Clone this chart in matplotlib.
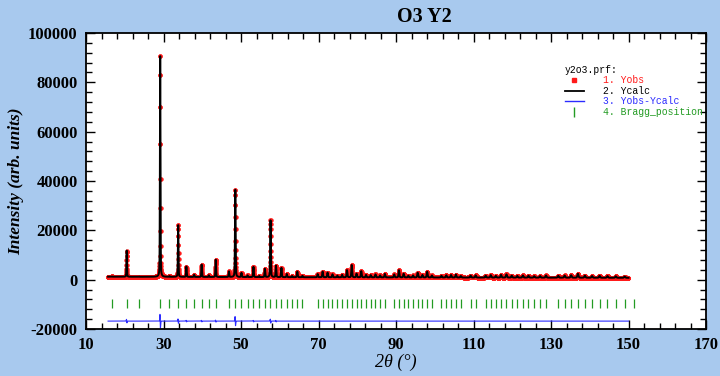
import matplotlib
matplotlib.use('Agg')
import matplotlib.pyplot as plt
import numpy as np
from matplotlib.lines import Line2D
from matplotlib.ticker import MultipleLocator

# =============================================================================
# Y2O3 powder pattern (FullProf style): scan range, background, reflections
# =============================================================================
TTH_START = 15.7
TTH_END = 150.0
TTH_STEP = 0.02

BG_TTH = [15.7, 60.0, 150.0]
BG_INT = [1200, 1000, 750]

BRAGG_POS = [
    16.71, 20.50, 23.71, 29.15, 31.54, 33.79, 35.90, 37.92, 39.84, 41.69,
    43.48, 46.89, 48.53, 50.12, 51.68, 53.21, 54.70, 56.17, 57.61, 59.03,
    60.43, 61.82, 63.18, 64.53, 65.86, 69.78, 71.06, 72.33, 73.60, 74.86,
    76.11, 77.35, 78.58, 79.82, 81.04, 82.27, 83.48, 84.70, 85.91, 87.13,
    89.55, 90.76, 91.97, 93.18, 94.39, 95.60, 96.82, 98.04, 99.27, 101.73,
    102.97, 104.21, 105.46, 106.72, 109.26, 110.55, 113.14, 114.45, 115.77,
    117.11, 118.49, 119.87, 121.30, 122.73, 124.19, 125.67, 127.17, 128.71,
    131.87, 133.51, 135.20, 136.95, 138.74, 140.60, 142.54, 144.58, 146.72,
    149.00, 151.44,
]

PEAK_INT = [
    100, 10600, 100, 90500, 300, 21200, 4200, 900, 5000, 700,
    7000, 2300, 35700, 1700, 700, 4200, 500, 3400, 23200, 4700,
    3800, 1300, 500, 2300, 600, 1300, 2300, 1900, 1200, 700,
    1000, 2900, 5000, 1500, 2500, 1000, 900, 1200, 800, 1400,
    1200, 2900, 1500, 700, 800, 1900, 1000, 2300, 800, 700,
    900, 1000, 1200, 600, 800, 900, 800, 1000, 700,
    1100, 1300, 800, 700, 900, 800, 600, 700, 900,
    800, 900, 1000, 1600, 900, 700, 800, 700, 600,
    500, 0,
]

# Yobs-Ycalc misfit around the strong lines
DIFF_POS = [20.50, 29.15, 33.79, 35.90, 39.84, 43.48, 48.53, 53.21, 57.61, 59.03]
DIFF_AMP = [700, 2800, 900, 300, 300, 400, 1900, 300, 800, 300]
DIFF_OFFSET = -16800

BRAGG_LOW, BRAGG_HIGH = -11300, -7700

BG_COLOR = '#a8c9ee'
RED = '#ff1a1a'
BLUE = '#2b2bff'
GREEN = '#239b23'


def pseudo_voigt(x, pos, height, eta=0.3):
    fwhm = 0.12 + 0.0015 * pos
    dx = (x - pos) / fwhm
    gauss = np.exp(-4 * np.log(2) * dx ** 2)
    lorentz = 1 / (1 + 4 * dx ** 2)
    return height * (eta * lorentz + (1 - eta) * gauss)


tth = np.arange(TTH_START, TTH_END + TTH_STEP / 2, TTH_STEP)
ycalc = np.interp(tth, BG_TTH, BG_INT).astype(float)
for p, h in zip(BRAGG_POS, PEAK_INT):
    ycalc += pseudo_voigt(tth, p, h)
yobs = ycalc.copy()

diff = np.full_like(tth, DIFF_OFFSET, dtype=float)
for p, a in zip(DIFF_POS, DIFF_AMP):
    s = 0.06
    u = (tth - p) / s
    diff += -a * u * np.exp(0.5 - u ** 2 / 2)

plt.rcParams['font.family'] = ['Liberation Serif', 'DejaVu Serif']
plt.rcParams['axes.unicode_minus'] = False

fig = plt.figure(figsize=(7.2, 3.76), dpi=100, facecolor=BG_COLOR)
ax = fig.add_axes([86 / 720, 47 / 376, 620 / 720, 296 / 376])

ax.plot(tth, yobs, 'o', color=RED, ms=3.2, mew=0)
ax.plot(tth, ycalc, color='black', lw=1.4)
ax.plot(tth, diff, color=BLUE, lw=0.8)
ax.vlines(BRAGG_POS, BRAGG_LOW, BRAGG_HIGH, colors=GREEN, lw=0.9)

ax.set_xlim(10, 170)
ax.set_ylim(-20000, 100000)
ax.xaxis.set_major_locator(MultipleLocator(20, offset=10))
ax.xaxis.set_minor_locator(MultipleLocator(4, offset=2))
ax.yaxis.set_major_locator(MultipleLocator(20000))
ax.yaxis.set_minor_locator(MultipleLocator(4000))
ax.tick_params(which='both', direction='in', top=True, right=True, width=1.0)
ax.tick_params(which='major', length=6.5, pad=6, labelsize=12)
ax.tick_params(which='minor', length=4.5)
for lbl in ax.get_xticklabels() + ax.get_yticklabels():
    lbl.set_fontweight('bold')
for sp in ax.spines.values():
    sp.set_linewidth(1.3)

ax.set_xlabel('2θ (°)', fontstyle='italic', fontsize=13, labelpad=0)
ax.set_ylabel('Intensity (arb. units)', fontstyle='italic', fontweight='bold',
              fontsize=12.5, labelpad=3)
fig.text(424 / 720, 1 - 17 / 376, 'O3 Y2', ha='center', va='center',
         fontsize=14.5, fontweight='bold')

handles = [
    Line2D([], [], marker='s', ms=2.5, color=RED, ls='none'),
    Line2D([], [], color='black', lw=1.3),
    Line2D([], [], color=BLUE, lw=1.0),
    Line2D([], [], marker='|', ms=7, mew=1.0, color=GREEN, ls='none'),
]
labels = ['1. Yobs', '2. Ycalc', '3. Yobs-Ycalc', '4. Bragg_position']
mono = {'family': 'Liberation Mono', 'size': 7}
ax.legend(handles, labels, title='y2o3.prf:', loc='upper right',
          bbox_to_anchor=(0.995, 0.892), frameon=False, prop=mono,
          title_fontproperties=mono, alignment='left',
          labelcolor=[RED, 'black', BLUE, GREEN], handlelength=1.9,
          handletextpad=2.0, labelspacing=0.05, borderpad=0, borderaxespad=0)

fig.savefig('out.png', dpi=100, facecolor=BG_COLOR)
